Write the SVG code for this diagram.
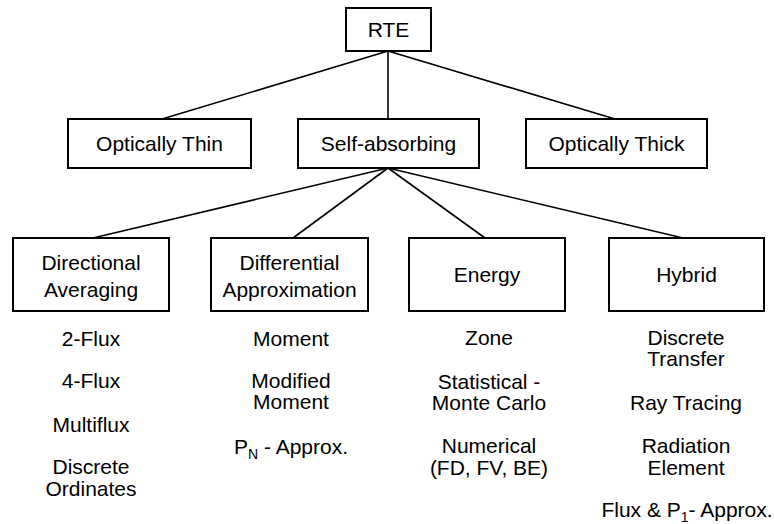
<svg xmlns="http://www.w3.org/2000/svg" width="774" height="524" viewBox="0 0 774 524">
<style>
  .box { fill: #ffffff; stroke: #000000; stroke-width: 2; }
  .conn { stroke: #000000; stroke-width: 1.6; fill: none; }
  text { font-family: "Liberation Sans", Arial, sans-serif; font-size: 21px; fill: #000000; text-anchor: middle; }
  .sub { font-size: 14px; }
</style>
<rect width="774" height="524" fill="#ffffff"/>
<g id="connectors">
  <line class="conn" x1="388" y1="51" x2="162" y2="119"/>
  <line class="conn" x1="388" y1="51" x2="388" y2="119"/>
  <line class="conn" x1="388" y1="51" x2="615" y2="119"/>
  <line class="conn" x1="388" y1="168" x2="93" y2="238"/>
  <line class="conn" x1="388" y1="168" x2="293" y2="238"/>
  <line class="conn" x1="388" y1="168" x2="485" y2="238"/>
  <line class="conn" x1="388" y1="168" x2="683" y2="238"/>
</g>
<g id="rte">
  <rect class="box" x="346" y="8" width="85" height="43"/>
  <text x="388.5" y="37">RTE</text>
</g>
<g id="optically-thin">
  <rect class="box" x="68" y="119" width="183" height="49"/>
  <text x="159.5" y="151">Optically Thin</text>
</g>
<g id="self-absorbing">
  <rect class="box" x="298" y="119" width="181" height="49"/>
  <text x="388.5" y="151">Self-absorbing</text>
</g>
<g id="optically-thick">
  <rect class="box" x="526" y="119" width="181" height="49"/>
  <text x="616.5" y="151">Optically Thick</text>
</g>
<g id="directional-averaging">
  <rect class="box" x="13" y="238" width="156" height="73"/>
  <text x="91" y="270">Directional</text>
  <text x="91" y="297">Averaging</text>
  <text x="91" y="346">2-Flux</text>
  <text x="91" y="388">4-Flux</text>
  <text x="91" y="432">Multiflux</text>
  <text x="91" y="474">Discrete</text>
  <text x="91" y="496">Ordinates</text>
</g>
<g id="differential-approximation">
  <rect class="box" x="211" y="238" width="157" height="73"/>
  <text x="289.5" y="270">Differential</text>
  <text x="289.5" y="297">Approximation</text>
  <text x="291" y="346">Moment</text>
  <text x="291" y="388">Modified</text>
  <text x="291" y="409">Moment</text>
  <text x="291" y="454">P<tspan class="sub" dy="5">N</tspan><tspan dy="-5"> - Approx.</tspan></text>
</g>
<g id="energy">
  <rect class="box" x="409" y="238" width="156" height="73"/>
  <text x="487" y="282">Energy</text>
  <text x="489" y="345">Zone</text>
  <text x="489" y="389">Statistical -</text>
  <text x="489" y="410">Monte Carlo</text>
  <text x="489" y="453">Numerical</text>
  <text x="489" y="475">(FD, FV, BE)</text>
</g>
<g id="hybrid">
  <rect class="box" x="609" y="238" width="155" height="73"/>
  <text x="686.5" y="282">Hybrid</text>
  <text x="686" y="345">Discrete</text>
  <text x="686" y="366">Transfer</text>
  <text x="686" y="410">Ray Tracing</text>
  <text x="686" y="453">Radiation</text>
  <text x="686" y="475">Element</text>
  <text x="687" y="517">Flux &amp; P<tspan class="sub" dy="5">1</tspan><tspan dy="-5">- Approx.</tspan></text>
</g>
</svg>
